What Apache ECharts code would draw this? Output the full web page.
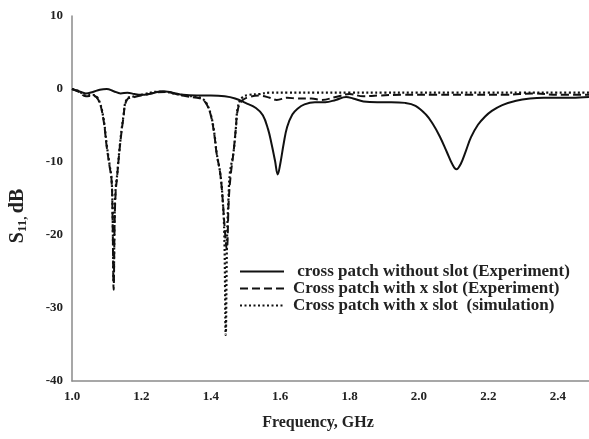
<!DOCTYPE html>
<html>
<head>
<meta charset="utf-8">
<script src="https://cdn.jsdelivr.net/npm/echarts@6/dist/echarts.min.js"></script>
<style>
  html, body { margin: 0; padding: 0; background: #fff; }
  #chart { width: 589px; height: 439px; }
</style>
</head>
<body>
<div id="chart"></div>
<script>
// Return loss S11 (dB) vs frequency (GHz) for the cross patch antennas
const seriesNames = [
  ' cross patch without slot (Experiment)',
  'Cross patch with x slot (Experiment)',
  'Cross patch with x slot  (simulation)'
];

const yTicks = [-40, -30, -20, -10, 0, 10];

// cross patch without slot, measured
const freqNoSlot = [1.00, 1.02, 1.04, 1.06, 1.08, 1.10, 1.12, 1.14, 1.16, 1.18, 1.20, 1.23, 1.26, 1.29, 1.32, 1.36, 1.40, 1.44, 1.47, 1.50, 1.53, 1.55, 1.565, 1.575, 1.585, 1.593, 1.60, 1.61, 1.62, 1.635, 1.65, 1.67, 1.70, 1.73, 1.76, 1.79, 1.81, 1.84, 1.88, 1.92, 1.96, 1.99, 2.02, 2.04, 2.06, 2.08, 2.095, 2.108, 2.12, 2.135, 2.15, 2.17, 2.19, 2.21, 2.24, 2.28, 2.32, 2.36, 2.40, 2.44, 2.49];
const s11NoSlot = [0.0, -0.3, -0.6, -0.4, -0.1, 0.0, -0.3, -0.6, -0.5, -0.7, -0.8, -0.6, -0.3, -0.5, -0.8, -0.9, -0.9, -1.0, -1.3, -1.9, -2.6, -3.6, -5.5, -7.5, -9.8, -11.7, -10.3, -7.5, -5.2, -3.5, -2.7, -2.1, -1.8, -1.8, -1.5, -1.1, -1.3, -1.7, -1.8, -1.8, -1.9, -2.3, -3.5, -4.8, -6.5, -8.6, -10.2, -11.0, -10.3, -8.5, -6.6, -4.9, -3.8, -3.0, -2.2, -1.6, -1.3, -1.2, -1.2, -1.2, -1.1];

// cross patch with x slot, measured
const freqSlotExp = [1.00, 1.02, 1.04, 1.06, 1.076, 1.09, 1.10, 1.108, 1.114, 1.117, 1.12, 1.123, 1.126, 1.129, 1.138, 1.148, 1.158, 1.18, 1.21, 1.24, 1.27, 1.30, 1.33, 1.36, 1.375, 1.388, 1.40, 1.41, 1.417, 1.427, 1.434, 1.44, 1.446, 1.452, 1.458, 1.465, 1.472, 1.478, 1.49, 1.51, 1.54, 1.57, 1.59, 1.62, 1.65, 1.69, 1.72, 1.76, 1.80, 1.84, 1.88, 1.95, 2.05, 2.15, 2.25, 2.33, 2.40, 2.49];
const s11SlotExp = [0.0, -0.4, -1.0, -0.9, -1.5, -4.0, -7.9, -10.5, -12.5, -18, -27.5, -18, -14, -12.5, -7.9, -4.0, -1.5, -1.1, -0.8, -0.5, -0.4, -0.7, -1.0, -1.2, -1.4, -2.1, -3.6, -6.2, -8.9, -11.5, -15, -19, -22, -15, -11.5, -8.9, -5.5, -2.8, -1.6, -1.1, -0.9, -1.2, -1.5, -1.2, -1.3, -1.3, -1.5, -1.1, -0.7, -1.0, -0.9, -0.8, -0.8, -0.8, -0.8, -0.6, -0.8, -0.8];

// cross patch with x slot, simulated
const freqSlotSim = [1.00, 1.02, 1.04, 1.06, 1.076, 1.09, 1.10, 1.108, 1.114, 1.117, 1.12, 1.123, 1.126, 1.129, 1.138, 1.148, 1.158, 1.18, 1.21, 1.24, 1.27, 1.30, 1.33, 1.36, 1.375, 1.388, 1.40, 1.41, 1.417, 1.427, 1.434, 1.439, 1.443, 1.447, 1.451, 1.455, 1.465, 1.472, 1.478, 1.49, 1.51, 1.54, 1.57, 1.62, 1.70, 1.80, 1.90, 2.00, 2.10, 2.20, 2.30, 2.40, 2.49];
const s11SlotSim = [0.0, -0.3, -0.9, -0.8, -1.4, -3.8, -7.6, -10.3, -12.3, -17, -26.5, -17, -13.5, -12.3, -7.7, -3.8, -1.4, -1.0, -0.7, -0.4, -0.4, -0.7, -0.9, -1.1, -1.3, -2.0, -3.5, -6.0, -8.8, -11.5, -15, -20, -33.7, -20, -15, -11.5, -8.8, -5.5, -2.5, -1.2, -0.8, -0.7, -0.5, -0.5, -0.5, -0.5, -0.5, -0.5, -0.5, -0.5, -0.5, -0.5, -0.5];

const pairs = (xs, ys) => xs.map((x, i) => [x, ys[i]]);

const serifBold = { fontFamily: 'Liberation Serif', fontWeight: 'bold', color: '#222' };
const ink = '#111';

const chart = echarts.init(document.getElementById('chart'), null, { renderer: 'canvas' });

chart.setOption({
  animation: false,
  backgroundColor: '#fff',
  grid: { left: 72, right: 0, top: 16, bottom: 58, containLabel: false },
  xAxis: {
    type: 'value',
    min: 1.0,
    max: 2.49,
    interval: 0.2,
    axisLine: { show: true, onZero: false, lineStyle: { color: '#8a8a8a', width: 1.5 } },
    axisTick: { show: false },
    splitLine: { show: false },
    axisLabel: Object.assign({ fontSize: 13, margin: 9, showMaxLabel: false,
      formatter: v => v.toFixed(1) }, serifBold)
  },
  yAxis: {
    type: 'value',
    min: yTicks[0],
    max: yTicks[yTicks.length - 1],
    interval: 10,
    axisLine: { show: true, onZero: false, lineStyle: { color: '#8a8a8a', width: 1.5 } },
    axisTick: { show: false },
    splitLine: { show: false },
    axisLabel: Object.assign({ fontSize: 13, margin: 9 }, serifBold)
  },
  legend: {
    orient: 'vertical',
    left: 239,
    top: 263,
    itemWidth: 44,
    itemHeight: 12,
    itemGap: 0,
    padding: 0,
    itemStyle: { opacity: 0 },
    textStyle: Object.assign({ fontSize: 17, lineHeight: 15, padding: [0, 0, 0, 4] }, serifBold),
    data: seriesNames
  },
  graphic: [
    {
      type: 'text',
      x: 318,
      y: 423,
      style: {
        text: 'Frequency, GHz',
        fontSize: 16,
        fontFamily: 'Liberation Serif',
        fontWeight: 'bold',
        align: 'center',
        verticalAlign: 'middle',
        fill: '#222'
      }
    },
    {
      type: 'text',
      x: 18,
      y: 216,
      rotation: Math.PI / 2,
      style: {
        text: '{m|S}{s|11,} {m|dB}',
        align: 'center',
        verticalAlign: 'middle',
        rich: {
          m: { fontSize: 20, fontFamily: 'Liberation Serif', fontWeight: 'bold', fill: '#222' },
          s: { fontSize: 13, fontFamily: 'Liberation Serif', fontWeight: 'bold', fill: '#222', padding: [9, 0, 0, 0] }
        }
      }
    }
  ],
  series: [
    {
      name: seriesNames[0],
      type: 'line',
      data: pairs(freqNoSlot, s11NoSlot),
      smooth: 0.4,
      symbol: 'none',
      lineStyle: { color: ink, width: 2, type: 'solid' },
      itemStyle: { color: ink },
      z: 3
    },
    {
      name: seriesNames[1],
      type: 'line',
      data: pairs(freqSlotExp, s11SlotExp),
      smooth: 0.4,
      symbol: 'none',
      lineStyle: { color: ink, width: 2, type: [8, 4] },
      itemStyle: { color: ink },
      z: 4
    },
    {
      name: seriesNames[2],
      type: 'line',
      data: pairs(freqSlotSim, s11SlotSim),
      smooth: 0.4,
      symbol: 'none',
      lineStyle: { color: ink, width: 2.2, type: [2, 2.5] },
      itemStyle: { color: ink },
      z: 5
    }
  ]
});
</script>
</body>
</html>
